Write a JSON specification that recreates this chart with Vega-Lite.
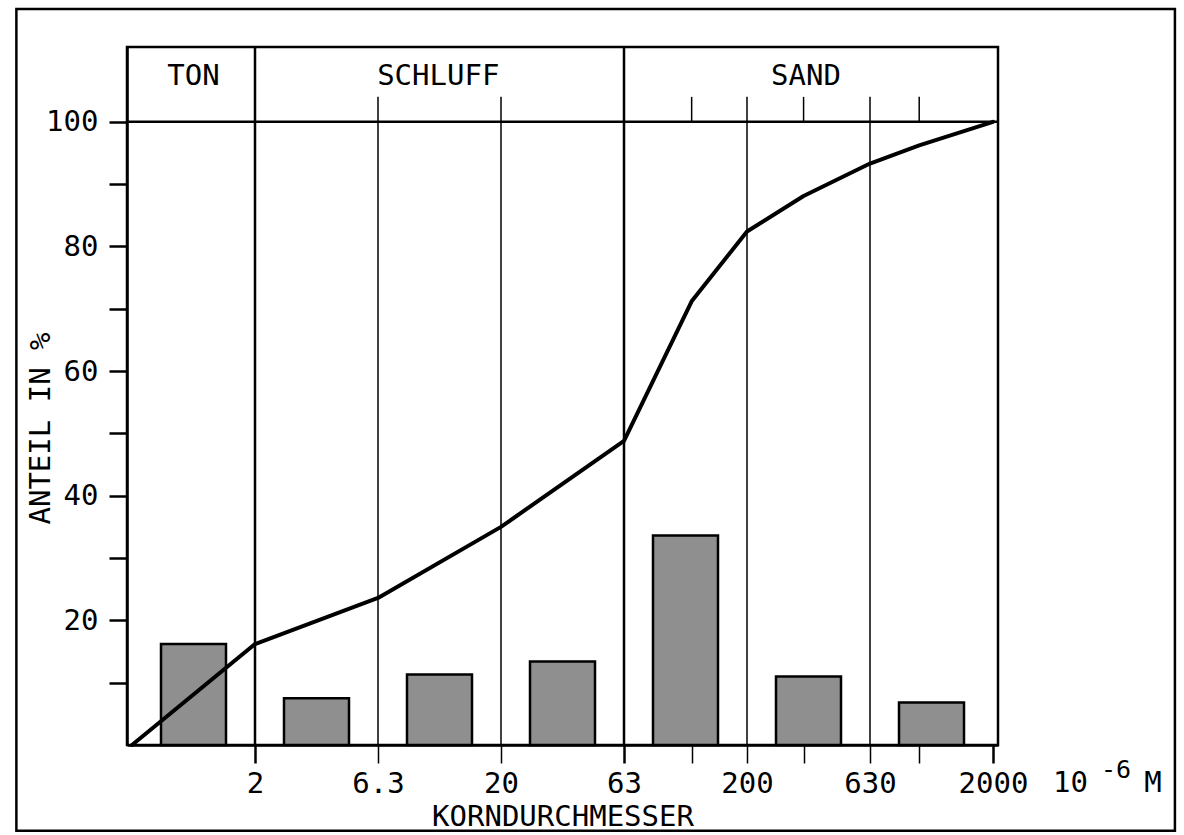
{
  "$schema": "https://vega.github.io/schema/vega-lite/v6.json",
  "width": 871,
  "height": 698,
  "autosize": "none",
  "padding": {"left": 127, "top": 47, "right": 186, "bottom": 90},
  "background": "white",
  "config": {
    "font": "DejaVu Sans Mono",
    "view": {"stroke": "black", "strokeWidth": 2.5},
    "axis": {
      "grid": false,
      "domainColor": "black",
      "domainWidth": 2.5,
      "tickColor": "black",
      "labelColor": "black",
      "titleColor": "black",
      "labelFont": "DejaVu Sans Mono",
      "titleFont": "DejaVu Sans Mono",
      "labelFontSize": 29,
      "titleFontSize": 29,
      "labelFontWeight": "normal",
      "titleFontWeight": "normal"
    },
    "text": {"font": "DejaVu Sans Mono", "fontSize": 29, "fontWeight": "normal", "color": "black"}
  },
  "datasets": {
    "anteile": [
      {"klasse": "0.63-2", "mitte": 0.5, "anteil": 16.2},
      {"klasse": "2-6.3", "mitte": 1.5, "anteil": 7.5},
      {"klasse": "6.3-20", "mitte": 2.5, "anteil": 11.3},
      {"klasse": "20-63", "mitte": 3.5, "anteil": 13.4},
      {"klasse": "63-200", "mitte": 4.5, "anteil": 33.6},
      {"klasse": "200-630", "mitte": 5.5, "anteil": 11.0},
      {"klasse": "630-2000", "mitte": 6.5, "anteil": 6.8}
    ],
    "summenkurve": [
      {"pos": 0, "summe": 0},
      {"pos": 1, "summe": 16.2},
      {"pos": 2, "summe": 23.6},
      {"pos": 3, "summe": 35.0},
      {"pos": 4, "summe": 48.8},
      {"pos": 4.55, "summe": 71.2},
      {"pos": 5, "summe": 82.4},
      {"pos": 5.46, "summe": 88.1},
      {"pos": 6, "summe": 93.3},
      {"pos": 6.4, "summe": 96.2},
      {"pos": 7, "summe": 100}
    ],
    "hauptgrenzen": [{"grenze": 1}, {"grenze": 4}],
    "nebengrenzen": [{"grenze": 2}, {"grenze": 3}, {"grenze": 5}, {"grenze": 6}],
    "sandteilung": [{"grenze": 4.55}, {"grenze": 5.46}, {"grenze": 6.4}],
    "bereiche": [
      {"name": "TON", "pos": 0.5},
      {"name": "SCHLUFF", "pos": 2.49},
      {"name": "SAND", "pos": 5.48}
    ]
  },
  "layer": [
    {
      "data": {"name": "anteile"},
      "mark": {"type": "bar", "width": 65, "fill": "#8f8f8f", "stroke": "black", "strokeWidth": 2.5},
      "encoding": {
        "x": {
          "field": "mitte",
          "type": "quantitative",
          "scale": {"domain": [0, 7], "nice": false, "zero": false},
          "axis": {
            "values": [1, 2, 3, 4, 4.55, 5, 5.46, 6, 6.4, 7],
            "labelExpr": "datum.value == 1 ? '2' : datum.value == 2 ? '6.3' : datum.value == 3 ? '20' : datum.value == 4 ? '63' : datum.value == 5 ? '200' : datum.value == 6 ? '630' : datum.value == 7 ? '2000' : ''",
            "tickSize": 18,
            "tickWidth": {"condition": {"test": "datum.value == 1 || datum.value == 4 || datum.value == 7", "value": 2.5}, "value": 1.5},
            "labelBaseline": "alphabetic",
            "labelPadding": 29,
            "labelFlush": false,
            "labelOverlap": false,
            "title": "KORNDURCHMESSER",
            "titleBaseline": "alphabetic",
            "titleY": 80
          }
        },
        "y": {
          "field": "anteil",
          "type": "quantitative",
          "scale": {"domain": [0, 112], "nice": false},
          "axis": {
            "values": [10, 20, 30, 40, 50, 60, 70, 80, 90, 100],
            "labelExpr": "datum.value % 20 == 0 ? datum.label : ''",
            "tickSize": 18,
            "tickWidth": 2.5,
            "labelPadding": 11,
            "title": "ANTEIL IN %",
            "titleAngle": -90,
            "titleAlign": "center",
            "titleBaseline": "alphabetic",
            "titleX": -78,
            "titleY": 381
          }
        }
      }
    },
    {
      "data": {"name": "hauptgrenzen"},
      "mark": {"type": "rule", "color": "black", "strokeWidth": 2.5},
      "encoding": {
        "x": {"field": "grenze", "type": "quantitative"},
        "y": {"datum": 0},
        "y2": {"datum": 112}
      }
    },
    {
      "data": {"name": "nebengrenzen"},
      "mark": {"type": "rule", "color": "black", "strokeWidth": 1.5},
      "encoding": {
        "x": {"field": "grenze", "type": "quantitative"},
        "y": {"datum": 0},
        "y2": {"datum": 104}
      }
    },
    {
      "data": {"name": "sandteilung"},
      "mark": {"type": "rule", "color": "black", "strokeWidth": 1.5},
      "encoding": {
        "x": {"field": "grenze", "type": "quantitative"},
        "y": {"datum": 100},
        "y2": {"datum": 104}
      }
    },
    {
      "data": {"values": [{}]},
      "mark": {"type": "rule", "color": "black", "strokeWidth": 2.5},
      "encoding": {
        "y": {"datum": 100}
      }
    },
    {
      "data": {"name": "summenkurve"},
      "mark": {"type": "line", "color": "black", "strokeWidth": 4, "strokeJoin": "round", "strokeCap": "round"},
      "encoding": {
        "x": {"field": "pos", "type": "quantitative"},
        "y": {"field": "summe", "type": "quantitative"}
      }
    },
    {
      "data": {"name": "bereiche"},
      "mark": {"type": "text", "align": "center", "baseline": "alphabetic"},
      "encoding": {
        "x": {"field": "pos", "type": "quantitative"},
        "y": {"datum": 105.9},
        "text": {"field": "name"}
      }
    },
    {
      "data": {"values": [{}]},
      "mark": {"type": "text", "align": "center", "baseline": "alphabetic"},
      "encoding": {
        "x": {"datum": 7.63},
        "y": {"datum": -7.54},
        "text": {"value": "10"}
      }
    },
    {
      "data": {"values": [{}]},
      "mark": {"type": "text", "align": "center", "baseline": "alphabetic", "fontSize": 25},
      "encoding": {
        "x": {"datum": 8.0},
        "y": {"datum": -5.3},
        "text": {"value": "-6"}
      }
    },
    {
      "data": {"values": [{}]},
      "mark": {"type": "text", "align": "center", "baseline": "alphabetic"},
      "encoding": {
        "x": {"datum": 8.3},
        "y": {"datum": -7.54},
        "text": {"value": "M"}
      }
    },
    {
      "data": {"values": [{}]},
      "mark": {"type": "rect", "fill": null, "fillOpacity": 0, "stroke": "black", "strokeWidth": 2.5},
      "encoding": {
        "x": {"datum": -0.94},
        "x2": {"datum": 8.479},
        "y": {"datum": 118.1},
        "y2": {"datum": -13.75}
      }
    }
  ]
}
